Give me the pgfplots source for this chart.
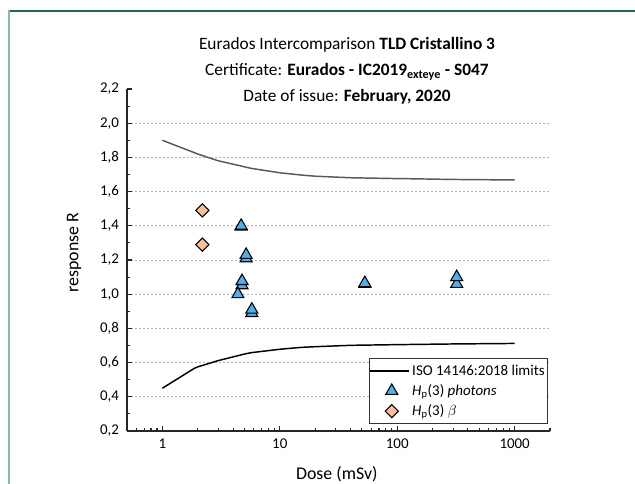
\documentclass[border=0pt]{standalone}
\usepackage{fontspec}
\setmainfont{Carlito}
\usepackage{pgfplots}
\pgfplotsset{compat=1.18}
\definecolor{photon}{HTML}{4AB0EE}
\definecolor{betac}{HTML}{FDBF97}
\definecolor{frameA}{HTML}{1E6B4A}
\definecolor{frameB}{HTML}{7CC29E}
\begin{document}
\begin{tikzpicture}[x=0.75pt,y=0.75pt]
\useasboundingbox (0,0) rectangle (635,484);
\draw[frameA, line width=1pt] (8,473) -- (635,473);
\draw[frameB, line width=1.6pt] (9,473.5) -- (9,0);
\node[align=center, font=\fontsize{13}{19.5}\selectfont] at (347,413)
 {Eurados Intercomparison \textbf{TLD Cristallino 3}\\
  Certificate: \textbf{Eurados - IC2019\textsubscript{exteye} - S047}\\
  Date of issue: \textbf{February, 2020}};
\begin{axis}[
  at={(95.25pt,39.75pt)}, anchor=south west,
  scale only axis, width=317.25pt, height=256.5pt,
  xmode=log, xmin=0.5, xmax=2000,
  ymin=0.2, ymax=2.2,
  axis x line*=bottom, axis y line*=left,
  axis line style={line width=0.9pt, black!85},
  xtick={1,10,100,1000}, xticklabels={1,10,100,1000},
  minor xtick={0.6,0.7,0.8,0.9,2,3,4,5,6,7,8,9,20,30,40,50,60,70,80,90,200,300,400,500,600,700,800,900,2000},
  ytick={0.4,0.6,0.8,1.0,1.2,1.4,1.6,1.8,2.0},
  extra y ticks={0.2,2.2},
  extra y tick style={grid=none},
  minor ytick={0.3,0.5,0.7,0.9,1.1,1.3,1.5,1.7,1.9,2.1},
  ymajorgrids,
  major grid style={black!30, dash pattern=on 1.5pt off 1.5pt, line width=0.6pt},
  tick align=inside,
  major tick length=4pt, minor tick length=2.4pt,
  tick style={black!85, line width=0.8pt},
  /pgf/number format/fixed, /pgf/number format/fixed zerofill,
  /pgf/number format/precision=1, /pgf/number format/use comma,
  /pgf/number format/assume math mode=true,
  tick label style={font=\fontsize{11.2}{13}\selectfont},
  xticklabel style={yshift=-2.5pt},
  yticklabel style={xshift=-2.5pt},
  xlabel={Dose (mSv)}, ylabel={response R},
  label style={font=\fontsize{13.4}{15}\selectfont},
  xlabel style={at={(axis description cs:0.496,-0.126)}, anchor=center},
  ylabel style={at={(axis description cs:-0.125,0.522)}, anchor=center},
  legend style={at={(rel axis cs:0.995,0.02)}, anchor=south east, draw=black!80, line width=0.8pt, font=\fontsize{11.2}{13}\selectfont, row sep=1.5pt, inner xsep=0pt, inner ysep=2.5pt},
  legend cell align=left,
  clip=false,
]
\addplot[black!65, line width=1.1pt, forget plot] coordinates {
  (1,1.90) (2,1.82) (2.44,1.80) (3,1.78) (5,1.745) (5.7,1.736) (10,1.71) (15.2,1.697) (20,1.69) (40,1.681) (100,1.676) (130,1.675) (300,1.671) (1000,1.668)};
\addplot[black, line width=1.1pt, legend image code/.code={\draw[black, line width=1.1pt] (-0.28cm,0cm) -- (0.75cm,0cm);}] coordinates {
  (1,0.45) (1.88,0.567) (2,0.575) (2.97,0.611) (5,0.650) (5.7,0.658) (10,0.678) (15.2,0.689) (20,0.693) (40,0.701) (100,0.705) (130,0.706) (300,0.709) (1000,0.712)};
\addlegendentry{ISO 14146:2018 limits}
\addplot[only marks, mark=triangle*, mark size=5.2pt, mark options={fill=photon, draw=black, line width=0.8pt}] coordinates {
  (4.69,1.395) (4.69,1.40) (5.17,1.21) (5.17,1.23) (4.77,1.052) (4.77,1.077) (4.40,1.00) (5.78,0.89) (5.78,0.91) (53,1.06) (53,1.065) (321,1.06) (321,1.10)};
\addlegendentry{\textit{H}\textsubscript{p}(3) \textit{photons}}
\addplot[only marks, mark=square*, mark size=3.5pt, mark options={rotate=45, fill=betac, draw=black, line width=0.8pt}] coordinates {
  (2.19,1.49) (2.19,1.29)};
\addlegendentry{\textit{H}\textsubscript{p}(3) $\beta$}
\end{axis}
\end{tikzpicture}
\end{document}
